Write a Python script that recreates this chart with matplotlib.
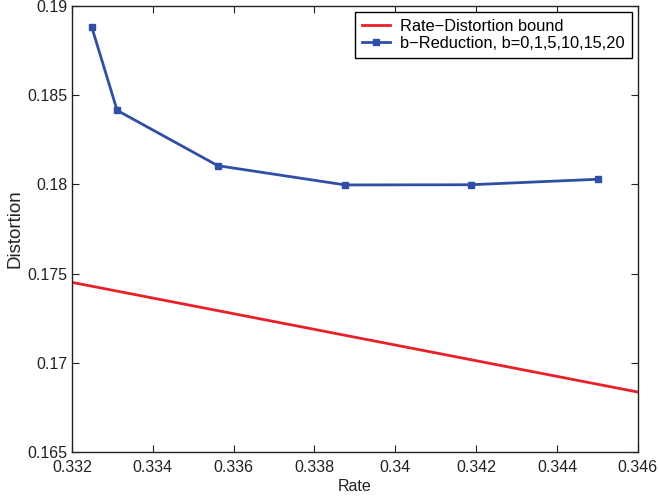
import matplotlib
matplotlib.use("Agg")
import matplotlib.pyplot as plt

plt.rcParams['font.family'] = ['Liberation Sans', 'DejaVu Sans']

# rate-distortion bound (straight segment across the plotted range)
rd_rate = [0.332, 0.346]
rd_dist = [0.17451, 0.16836]

# b-reduction points, b = 0, 1, 5, 10, 15, 20
b_rate = [0.33249, 0.33312, 0.33561, 0.33876, 0.34186, 0.34502]
b_dist = [0.18884, 0.18415, 0.18105, 0.17997, 0.17998, 0.18029]

xticks = [0.332, 0.334, 0.336, 0.338, 0.34, 0.342, 0.344, 0.346]
xticklabels = ['0.332', '0.334', '0.336', '0.338', '0.34', '0.342', '0.344', '0.346']
yticks = [0.165, 0.17, 0.175, 0.18, 0.185, 0.19]
yticklabels = ['0.165', '0.17', '0.175', '0.18', '0.185', '0.19']

fig = plt.figure(figsize=(6.59, 5), dpi=100)
ax = fig.add_axes([0.109, 0.096, 0.859, 0.892])

ax.plot(rd_rate, rd_dist, color='#e8202a', linewidth=2, label='Rate\u2212Distortion bound')
ax.plot(b_rate, b_dist, color='#2f4fa5', linewidth=2, marker='s', markersize=4.5,
        label='b\u2212Reduction, b=0,1,5,10,15,20')

ax.set_xlim(0.332, 0.346)
ax.set_ylim(0.165, 0.19)
ax.set_xticks(xticks)
ax.set_xticklabels(xticklabels)
ax.set_yticks(yticks)
ax.set_yticklabels(yticklabels)
ax.tick_params(direction='in', top=True, right=True, length=5, width=0.8,
               labelsize=11.5, colors='#222222')
ax.tick_params(axis='x', pad=5.5)
ax.tick_params(axis='y', pad=3)
for s in ax.spines.values():
    s.set_linewidth(1.0)
    s.set_color('#222222')

ax.set_xlabel('Rate', fontsize=11.5, labelpad=3, color='#222222')
ax.set_ylabel('Distortion', fontsize=13.5, labelpad=3, color='#222222')

leg = ax.legend(loc='upper right', fontsize=11.8, frameon=True, fancybox=False,
                edgecolor='black', framealpha=1, handlelength=1.7, handletextpad=0.6,
                borderpad=0.45, labelspacing=0.12, borderaxespad=0.35)
leg.get_frame().set_linewidth(1.0)

fig.savefig('out.png', dpi=100)
